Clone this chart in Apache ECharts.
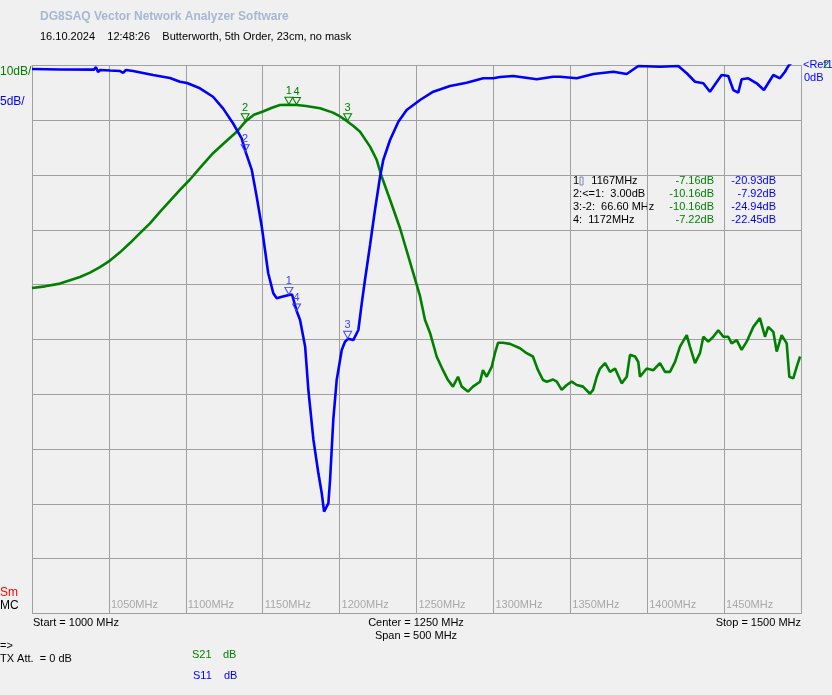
<!DOCTYPE html>
<html>
<head>
<meta charset="utf-8">
<script src="https://cdn.jsdelivr.net/npm/echarts@6/dist/echarts.min.js"></script>
<style>
html, body { margin: 0; padding: 0; background: #f0f0f0; }
#main { width: 832px; height: 695px; }
</style>
</head>
<body>
<div id="main"></div>
<script>
// S21 trace (green), MHz / dB, 10dB/div, ref 0dB at top
var s21Freq = [1000, 1008.5, 1018.2, 1024.7, 1031.2, 1037.7, 1044.2, 1050.7, 1057.2, 1063.7, 1070.2, 1076.7, 1083.2, 1089.7, 1096.2, 1102.7, 1109.2, 1117.7, 1125.5, 1133.1, 1139.0, 1144.3, 1150.2, 1156.0, 1161.2, 1167.1, 1172.2, 1178.2, 1187.3, 1195.7, 1200.3, 1204.8, 1208.8, 1213.3, 1219.8, 1224.1, 1227.4, 1232.8, 1239.3, 1245.8, 1252.3, 1255.5, 1258.8, 1263.1, 1267.2, 1270.5, 1273.7, 1277.0, 1279.4, 1283.5, 1286.7, 1291.3, 1293.2, 1295.6, 1298.9, 1301.0, 1303.0, 1306.2, 1310.8, 1317.3, 1321.6, 1325.7, 1329.0, 1332.3, 1334.7, 1338.8, 1341.2, 1344.4, 1347.7, 1350.9, 1354.2, 1358.3, 1362.8, 1364.8, 1367.2, 1369.3, 1372.6, 1375.8, 1379.1, 1383.4, 1386.7, 1388.8, 1392.1, 1394.2, 1395.3, 1399.7, 1404.0, 1408.3, 1411.6, 1414.8, 1418.1, 1421.3, 1425.7, 1427.8, 1431.1, 1434.3, 1436.5, 1439.7, 1443.0, 1446.2, 1449.5, 1452.7, 1454.9, 1458.2, 1461.4, 1464.7, 1469.0, 1473.3, 1476.6, 1478.7, 1482.0, 1484.2, 1487.4, 1490.7, 1492.4, 1495.0, 1497.2, 1499.4];
var s21Db = [-40.6, -40.3, -39.8, -39.2, -38.6, -37.8, -36.8, -35.6, -34.1, -32.4, -30.6, -28.8, -26.7, -24.7, -22.7, -20.8, -18.7, -16.0, -14.0, -12.1, -10.16, -9.0, -8.4, -7.7, -7.2, -7.16, -7.22, -7.4, -7.8, -8.6, -9.3, -10.16, -11.0, -12.1, -14.8, -17.2, -20.3, -24.5, -29.7, -35.9, -42.1, -46.4, -48.8, -53.1, -55.6, -57.4, -58.6, -56.8, -58.6, -59.5, -58.6, -57.7, -55.6, -56.8, -55.0, -52.5, -50.6, -50.6, -50.8, -51.6, -52.5, -53.1, -55.6, -57.4, -57.7, -57.3, -57.7, -59.2, -58.3, -57.7, -58.3, -58.6, -59.9, -59.2, -56.8, -55.3, -54.3, -55.9, -55.3, -58.0, -56.8, -52.8, -53.1, -54.1, -56.8, -55.3, -55.6, -54.3, -55.9, -55.9, -54.1, -51.3, -49.2, -51.3, -54.3, -52.5, -49.5, -50.4, -49.5, -48.3, -49.5, -49.5, -50.7, -50.1, -51.9, -50.4, -47.7, -46.1, -49.5, -47.7, -48.6, -52.2, -49.2, -50.7, -56.8, -57.1, -55.0, -53.1];

// S11 trace (blue), MHz / dB, 5dB/div, ref 0dB at top
var s11Freq = [1000, 1018.2, 1040.3, 1041.6, 1042.9, 1044.2, 1050.7, 1057.2, 1059.2, 1061.1, 1065.7, 1078.7, 1089.7, 1096.2, 1100.8, 1109.2, 1117.7, 1124.2, 1130.7, 1136.3, 1139.0, 1142.9, 1146.1, 1149.4, 1151.5, 1153.6, 1156.9, 1159.1, 1162.5, 1167.1, 1169.1, 1172.2, 1174.3, 1177.6, 1179.7, 1183.0, 1186.2, 1188.4, 1189.9, 1192.7, 1193.8, 1195.9, 1198.1, 1201.4, 1203.5, 1205.5, 1208.9, 1212.2, 1214.4, 1216.5, 1219.8, 1223.0, 1226.3, 1228.4, 1232.8, 1238.2, 1243.6, 1252.3, 1260.9, 1271.8, 1282.6, 1293.4, 1299.9, 1304.3, 1312.9, 1328.2, 1338.8, 1343.3, 1354.2, 1365.0, 1378.0, 1386.7, 1394.2, 1408.3, 1420.2, 1425.7, 1431.1, 1436.5, 1440.8, 1448.4, 1452.7, 1456.0, 1459.2, 1461.4, 1465.7, 1471.2, 1475.9, 1482.0, 1486.3, 1489.6, 1491.7, 1494.1, 1499.4];
var s11Db = [-0.32, -0.36, -0.38, -0.15, -0.6, -0.41, -0.46, -0.50, -0.68, -0.41, -0.50, -0.87, -1.14, -1.48, -1.60, -2.08, -2.85, -3.91, -5.27, -6.64, -7.92, -9.53, -11.97, -14.71, -16.83, -18.96, -20.78, -21.24, -21.1, -20.93, -20.9, -22.45, -23.22, -25.66, -29.61, -34.17, -37.21, -39.03, -40.71, -39.95, -37.82, -32.34, -28.70, -25.96, -25.2, -24.94, -25.05, -24.13, -21.70, -19.57, -16.38, -13.18, -10.15, -8.62, -6.80, -5.13, -4.06, -3.15, -2.39, -1.87, -1.57, -1.17, -1.17, -1.05, -0.96, -1.26, -1.02, -1.02, -1.17, -0.78, -0.57, -0.78, -0.05, -0.11, -0.05, -0.71, -1.48, -1.62, -2.39, -0.87, -0.96, -2.24, -2.48, -1.26, -1.17, -1.62, -2.24, -0.87, -1.17, -0.57, -0.05, 0.3, 0.7];

// markers 1..4
var markerNames = ['1', '2', '3', '4'];
var markerFreq = [1167, 1138.6, 1205.2, 1172];
var markerS21 = [-7.16, -10.16, -10.16, -7.22];
var markerS11 = [-20.93, -7.92, -24.94, -22.45];
var markerText = ['1    1167MHz', '2:<=1:  3.00dB', '3:-2:  66.60 MHz', '4:  1172MHz'];
var markerS21Text = ['-7.16dB', '-10.16dB', '-10.16dB', '-7.22dB'];
var markerS11Text = ['-20.93dB', '-7.92dB', '-24.94dB', '-22.45dB'];

var GREEN = '#008000';
var BLUE = '#0000ff';
var GRID = '#a0a0a0';
var FONT = '11px "Liberation Sans", Arial, sans-serif';
var FONT12 = '12px "Liberation Sans", Arial, sans-serif';

var chart = echarts.init(document.getElementById('main'));

function zip(a, b) {
  return a.map(function (v, i) { return [v, b[i]]; });
}

function markerPoints(vals, color) {
  return {
    symbol: 'path://M0,0 L10,0 L5,8 Z',
    symbolSize: [8, 7],
    symbolOffset: [0, -4],
    itemStyle: { color: 'rgba(0,0,0,0)', borderColor: color, borderWidth: 1 },
    label: {
      show: true, position: 'top', distance: 0, color: color,
      fontSize: 11, fontFamily: 'Liberation Sans',
      formatter: function (p) { return p.name; }
    },
    data: markerFreq.map(function (f, i) {
      return { name: markerNames[i], coord: [f, vals[i]] };
    })
  };
}

function txt(x, y, s, color, opts) {
  opts = opts || {};
  return {
    type: 'text', x: x, y: y, silent: true,
    style: {
      text: s, fill: color, font: opts.font || FONT,
      textAlign: opts.align || 'left', textVerticalAlign: 'middle'
    }
  };
}

var graphics = [
  txt(40, 17, 'DG8SAQ Vector Network Analyzer Software', '#a4b8d4', { font: 'bold 12px "Liberation Sans", Arial, sans-serif' }),
  txt(40, 37, '16.10.2024    12:48:26    Butterworth, 5th Order, 23cm, no mask', '#000'),
  txt(0, 72, '10dB/', GREEN, { font: FONT12 }),
  txt(0, 102, '5dB/', BLUE, { font: FONT12 }),
  txt(0, 593, 'Sm', '#ff0000', { font: FONT12 }),
  txt(0, 606, 'MC', '#000', { font: FONT12 }),
  txt(803, 65, '<Ref1', BLUE),
  txt(823, 65, '2', GREEN),
  txt(804, 78, '0dB', BLUE),
  txt(33, 623, 'Start = 1000 MHz', '#000'),
  txt(416, 623, 'Center = 1250 MHz', '#000', { align: 'center' }),
  txt(416, 636, 'Span = 500 MHz', '#000', { align: 'center' }),
  txt(801, 623, 'Stop = 1500 MHz', '#000', { align: 'right' }),
  txt(0, 646, '=>', '#000'),
  txt(0, 659, 'TX Att.  = 0 dB', '#000'),
  txt(192, 655, 'S21', GREEN),
  txt(223, 655, 'dB', GREEN),
  txt(193, 676, 'S11', BLUE),
  txt(224, 676, 'dB', BLUE)
];

markerText.forEach(function (s, i) {
  var y = 181 + i * 13;
  graphics.push(txt(573, y, s, '#000'));
  graphics.push(txt(714, y, markerS21Text[i], GREEN, { align: 'right' }));
  graphics.push(txt(776, y, markerS11Text[i], BLUE, { align: 'right' }));
});
// little cursor box after marker 1
graphics.push({
  type: 'rect', silent: true,
  shape: { x: 580, y: 177, width: 3, height: 8 },
  style: { fill: 'none', stroke: '#8080c0', lineWidth: 1 }
});

var option = {
  backgroundColor: '#f0f0f0',
  animation: false,
  grid: { left: 32, top: 65.5, width: 769, height: 548 },
  xAxis: {
    type: 'value', min: 1000, max: 1500, interval: 50,
    axisLine: { show: true, lineStyle: { color: GRID, width: 1 } },
    axisTick: { show: false },
    splitLine: { show: true, lineStyle: { color: GRID, width: 1 } },
    axisLabel: {
      inside: true, align: 'left', margin: 3, padding: [0, 0, 0, 2],
      color: '#a8a8a8', fontSize: 11, fontFamily: 'Liberation Sans',
      showMinLabel: false, showMaxLabel: false,
      formatter: function (v) { return v + 'MHz'; }
    }
  },
  yAxis: [
    {
      type: 'value', min: -100, max: 0, interval: 10,
      axisLine: { show: true, lineStyle: { color: GRID, width: 1 } },
      axisTick: { show: false }, axisLabel: { show: false },
      splitLine: { show: true, lineStyle: { color: GRID, width: 1 } }
    },
    {
      type: 'value', min: -50, max: 0, interval: 5, position: 'right',
      axisLine: { show: true, lineStyle: { color: GRID, width: 1 } },
      axisTick: { show: false }, axisLabel: { show: false },
      splitLine: { show: false }
    }
  ],
  graphic: graphics,
  series: [
    {
      name: 'S21', type: 'line', yAxisIndex: 0,
      data: zip(s21Freq, s21Db),
      showSymbol: false, clip: true,
      lineStyle: { color: GREEN, width: 2.6 },
      markPoint: markerPoints(markerS21, GREEN)
    },
    {
      name: 'S11', type: 'line', yAxisIndex: 1,
      data: zip(s11Freq, s11Db),
      showSymbol: false, clip: true,
      lineStyle: { color: BLUE, width: 2.6 },
      markPoint: markerPoints(markerS11, '#4040ff')
    }
  ]
};

chart.setOption(option);
</script>
</body>
</html>
